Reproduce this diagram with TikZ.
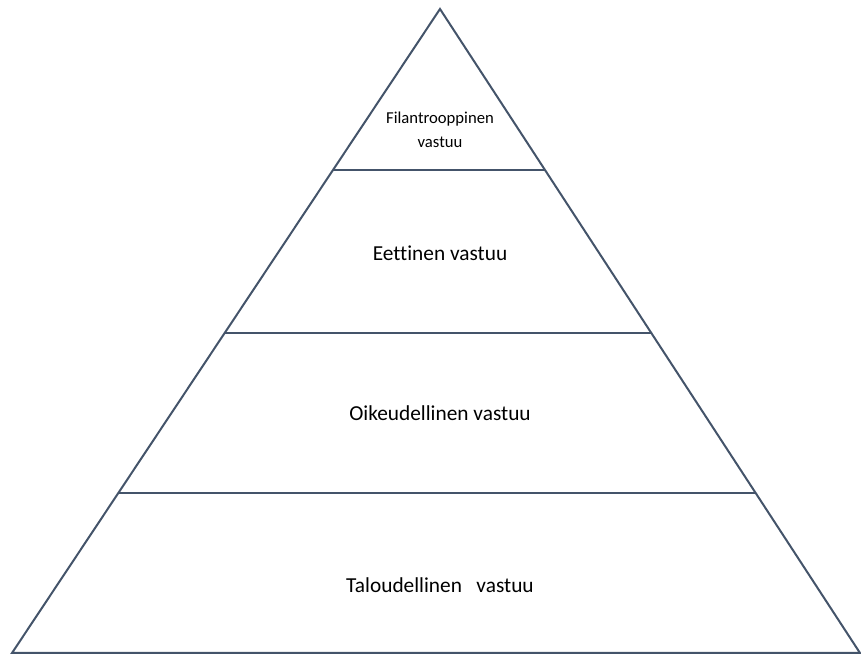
\documentclass[tikz,border=0pt]{standalone}
\usepackage{fontspec}
\setmainfont{Carlito}[Ligatures=NoCommon]
\usepackage{xcolor}
\usetikzlibrary{positioning,calc}

\definecolor{edgegray}{HTML}{44546A}

\begin{document}
\begin{tikzpicture}[
    x=0.75pt, y=-0.75pt,
    edge/.style={draw=edgegray, line width=1.5pt, line join=miter},
    layer/.style={draw=edgegray, line width=1.5pt},
    lbl/.style={align=center, inner sep=1pt, font=\fontsize{16}{19}\selectfont},
    toplbl/.style={align=center, inner sep=1pt, font=\fontsize{12.5}{18}\selectfont}
]
\useasboundingbox (0,0) rectangle (861,655);

% Pyramid corners
\coordinate (apex) at (440,9);
\coordinate (bl) at (12,653);
\coordinate (br) at (860,653);

% Outline
\draw[edge] (bl) -- (apex) -- (br) -- cycle;

% Layer dividers
\coordinate (l1) at ($(apex)!0.25!(bl)$);
\coordinate (r1) at ($(apex)!0.25!(br)$);
\coordinate (l2) at ($(apex)!0.5031!(bl)$);
\coordinate (r2) at ($(apex)!0.5031!(br)$);
\coordinate (l3) at ($(apex)!0.7516!(bl)$);
\coordinate (r3) at ($(apex)!0.7516!(br)$);
\draw[layer] (l1) -- (r1);
\draw[layer] (l2) -- (r2);
\draw[layer] (l3) -- (r3);

% Labels
\node[toplbl] (filantr) at (440,130) {Filantrooppinen\\vastuu};
\node[lbl] (eettinen) at (440,253) {Eettinen vastuu};
\node[lbl] (oikeud) at (440,413) {Oikeudellinen vastuu};
\node[lbl] (talous) at (440,585) {Taloudellinen\ \ \ vastuu};

\end{tikzpicture}
\end{document}
